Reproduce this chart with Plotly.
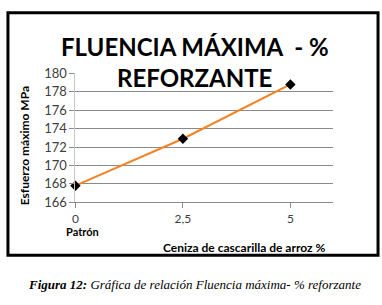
import plotly.graph_objects as go

x_vals = [0, 2.5, 5]
y_vals = [167.8, 172.9, 178.8]
x_tickvals = [0, 2.5, 5]
x_ticktext = ["0", "2,5", "5"]
y_tickvals = [166, 168, 170, 172, 174, 176, 178, 180]

W, H = 382, 305
def px(x):
    return x / W
def py(y):
    return 1 - y / H

fig = go.Figure()
fig.add_trace(go.Scatter(
    x=x_vals, y=y_vals, mode="lines+markers",
    line=dict(color="#F5821F", width=2),
    marker=dict(symbol="diamond", size=8, color="black"),
    showlegend=False, cliponaxis=False,
))

font_main = "Lato, 'Open Sans', sans-serif"

def ann(text, x, y, size, family=font_main, angle=0):
    return dict(text=text, x=px(x), y=py(y), xref="paper", yref="paper",
                xanchor="center", yanchor="middle", showarrow=False,
                textangle=angle, font=dict(family=family, size=size, color="black"))

fig.update_layout(
    width=W, height=H,
    margin=dict(l=0, r=0, t=0, b=0),
    paper_bgcolor="white", plot_bgcolor="white",
    xaxis=dict(
        domain=[px(73), px(333)], range=[0, 6],
        tickvals=x_tickvals, ticktext=x_ticktext,
        showgrid=False, zeroline=False,
        showline=True, linecolor="#8a8a8a", linewidth=1,
        ticks="outside", ticklen=5, tickcolor="#8a8a8a",
        tickfont=dict(family=font_main, size=12, color="#404040"),
    ),
    yaxis=dict(
        domain=[py(205), py(69)], range=[166, 180],
        tickvals=y_tickvals,
        showgrid=True, gridcolor="#8a8a8a", gridwidth=1,
        zeroline=False,
        showline=True, linecolor="#c8c8c8", linewidth=1,
        ticks="outside", ticklen=5, tickcolor="#8a8a8a",
        tickfont=dict(family=font_main, size=13, color="#404040"),
    ),
    shapes=[dict(type="rect", xref="paper", yref="paper",
                 x0=px(5), x1=px(378), y0=py(261), y1=py(5),
                 line=dict(color="black", width=3), fillcolor="rgba(0,0,0,0)")],
    annotations=[
        ann("<b>FLUENCIA MÁXIMA  - %</b>", 194, 41, 24),
        ann("<b>REFORZANTE</b>", 193, 73, 24),
        ann("<b>Esfuerzo máximo MPa</b>", 22, 145, 12, angle=-90),
        ann("<b>Patrón</b>", 80, 236, 11),
        ann("<b>Ceniza de cascarilla de arroz %</b>", 243, 253, 12),
        ann("<b><i>Figura 12:</i></b><i> Gráfica de relación Fluencia máxima- % reforzante</i>",
            193, 292, 13, family="'Liberation Serif', serif"),
    ],
)

fig.write_html("out.html", config={"displayModeBar": False},
               post_script="document.body.style.margin='0';")
